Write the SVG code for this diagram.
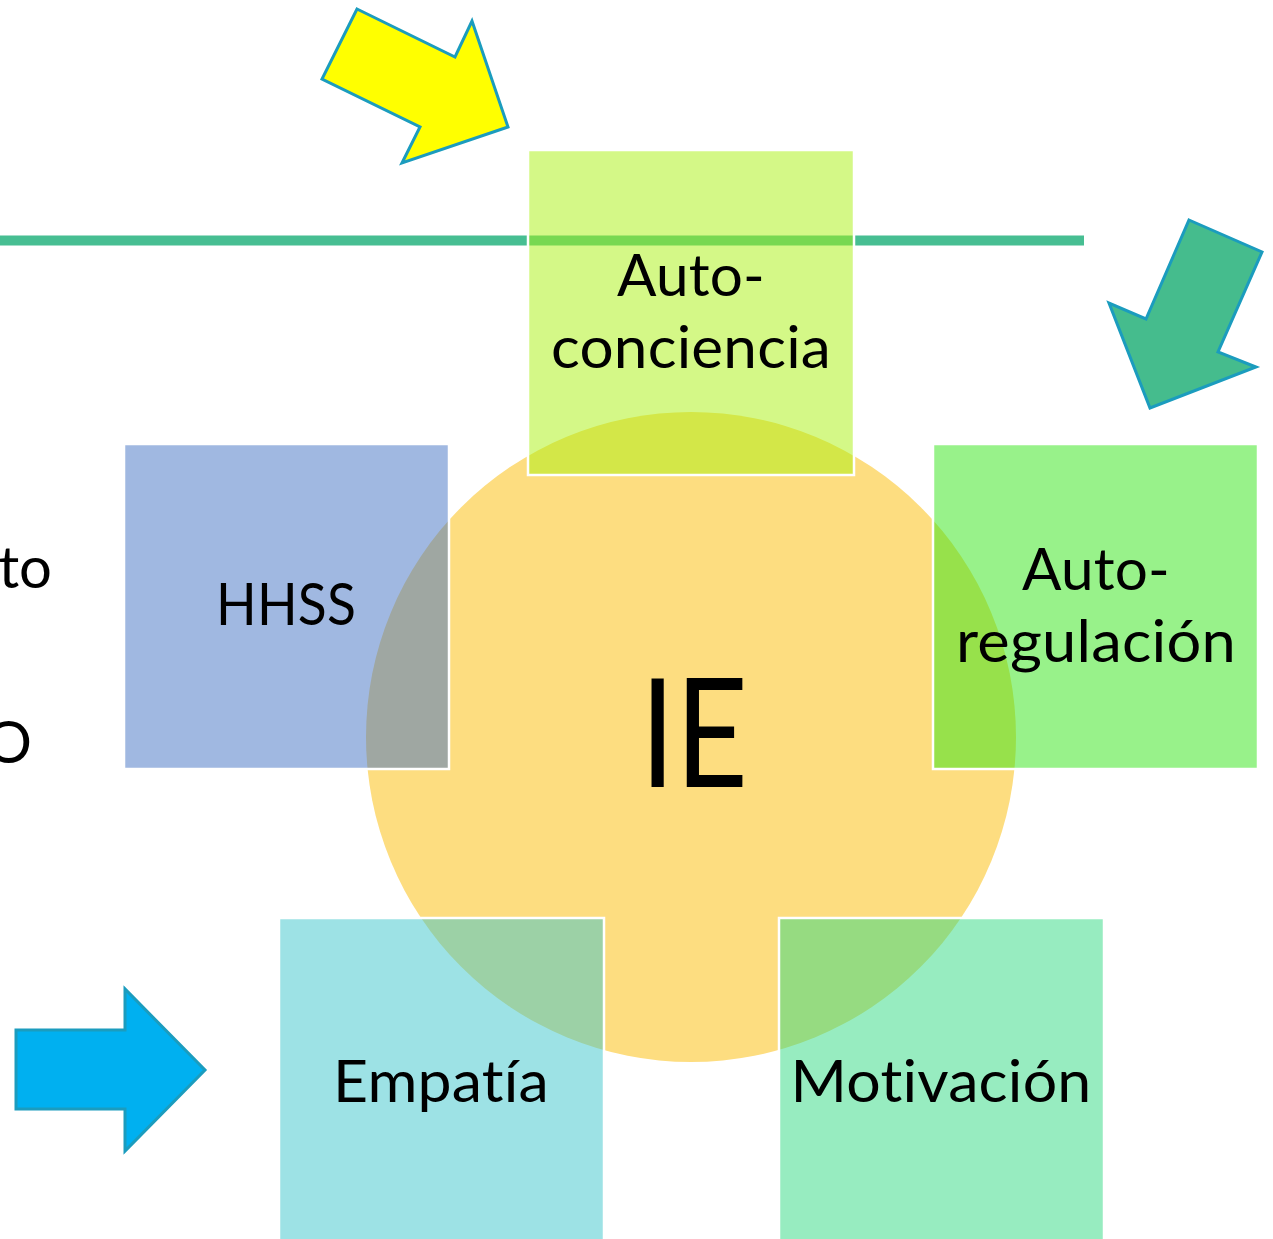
<svg xmlns="http://www.w3.org/2000/svg" width="1273" height="1239" viewBox="0 0 1273 1239">
<style>
.sq{stroke:#ffffff;stroke-width:2.5;fill-opacity:0.5}
.t{font-family:Lato,"Liberation Sans",Arial,sans-serif;font-size:58px;fill:#000000;text-anchor:middle;font-variant-ligatures:none;font-feature-settings:"liga" 0,"dlig" 0,"clig" 0;letter-spacing:0.2px}
.arr{stroke:#1b9cbe;stroke-width:3;stroke-linejoin:miter}
</style>
<rect width="1273" height="1239" fill="#ffffff"/>
<g id="line">
<rect x="0" y="235.5" width="1084" height="10" fill="#47be92"/>
</g>
<g id="node-ie">
<circle cx="691" cy="737" r="325" fill="#fddd80"/>
</g>
<g id="node-autoconciencia">
<rect class="sq" x="528" y="150" width="326" height="325" fill="#a9f10f"/>
<text class="t" x="691" y="296" textLength="148" lengthAdjust="spacingAndGlyphs">Auto-</text>
<text class="t" x="691" y="368" textLength="280" lengthAdjust="spacingAndGlyphs">conciencia</text>
</g>
<g id="node-hhss">
<rect class="sq" x="124" y="444" width="325" height="325" fill="#4171c3"/>
<text class="t" x="286" y="625" textLength="140" lengthAdjust="spacingAndGlyphs">HHSS</text>
</g>
<g id="node-autoregulacion">
<rect class="sq" x="933" y="444" width="325" height="325" fill="#31e515"/>
<text class="t" x="1096" y="590" textLength="148" lengthAdjust="spacingAndGlyphs">Auto-</text>
<text class="t" x="1096" y="662" textLength="280" lengthAdjust="spacingAndGlyphs">regulación</text>
</g>
<g id="node-empatia">
<rect class="sq" x="279" y="918" width="325" height="330" fill="#3bc5cb"/>
<text class="t" x="441" y="1102" textLength="216" lengthAdjust="spacingAndGlyphs">Empatía</text>
</g>
<g id="node-motivacion">
<rect class="sq" x="779" y="918" width="325" height="330" fill="#2fd981"/>
<text class="t" x="941" y="1102" textLength="301" lengthAdjust="spacingAndGlyphs">Motivación</text>
</g>
<g id="ie-label">
<text x="694" y="787" font-family="Lato,'Liberation Sans',Arial,sans-serif" font-size="152" text-anchor="middle" textLength="108" lengthAdjust="spacingAndGlyphs">IE</text>
</g>
<g id="left-text" font-family="Lato,'Liberation Sans',Arial,sans-serif" font-size="58" text-anchor="end">
<text x="52" y="588">to</text>
<text x="32" y="763">O</text>
</g>
<g id="connectors">
<polygon class="arr" fill="#ffff00" points="357,9 455,57 472,21 508,127 402,163 420,127 322,79"/>
<polygon class="arr" fill="#45bc8d" points="1189,220 1262,252 1218,352 1256,367 1150,408 1109,303 1146,319"/>
<polygon class="arr" fill="#00b0f0" stroke-width="1.5" points="16,1030 125,1030 125,989 205,1070 125,1151 125,1109 16,1109"/>
</g>
</svg>
